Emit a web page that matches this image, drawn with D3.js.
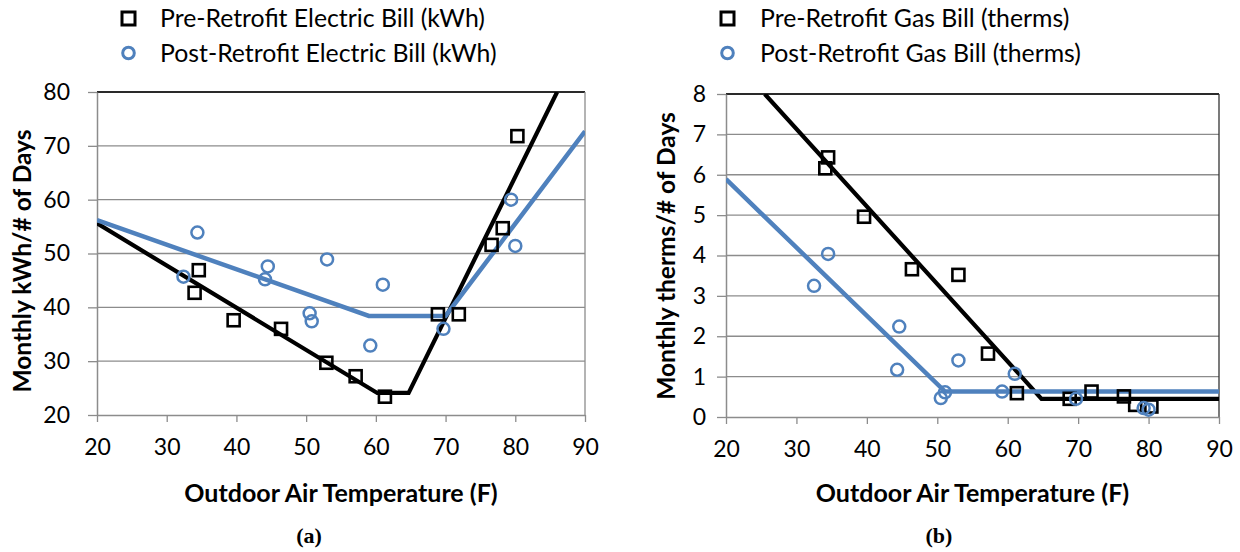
<!DOCTYPE html>
<html><head><meta charset="utf-8">
<script src="https://cdn.jsdelivr.net/npm/d3@7"></script>
<style>body{margin:0;background:#fff} svg{display:block}</style>
</head><body>
<svg id="c" width="1240" height="552"></svg>
<script>
// ---- data ----
const tempTicks = [20, 30, 40, 50, 60, 70, 80, 90];
const elecTicks = [20, 30, 40, 50, 60, 70, 80];
const gasTicks = [0, 1, 2, 3, 4, 5, 6, 7, 8];

const elecPreTemp = [34.6, 34.0, 39.6, 46.4, 52.9, 57.1, 61.3, 68.9, 71.9, 76.6, 78.2, 80.3];
const elecPreKwh  = [46.9, 42.7, 37.6, 36.0, 29.7, 27.2, 23.4, 38.7, 38.7, 51.6, 54.7, 71.8];
const elecPostTemp = [34.4, 32.4, 44.5, 44.1, 53.0, 50.5, 50.8, 61.0, 59.2, 69.7, 79.4, 80.0];
const elecPostKwh  = [53.9, 45.7, 47.6, 45.2, 48.9, 38.9, 37.4, 44.2, 32.9, 36.0, 60.0, 51.4];
const elecPreFitTemp = [20, 60.2, 64.7, 86.0];
const elecPreFitKwh  = [55.6, 24.1, 24.1, 80];
const elecPostFitTemp = [20, 59.0, 70.0, 90];
const elecPostFitKwh  = [56.2, 38.4, 38.4, 72.7];

const gasPreTemp = [34.5, 34.1, 39.6, 46.4, 53.0, 57.2, 61.3, 68.8, 71.9, 76.5, 78.1, 80.4];
const gasPreTherms = [6.43, 6.16, 4.96, 3.66, 3.52, 1.57, 0.59, 0.45, 0.63, 0.51, 0.30, 0.26];
const gasPostTemp = [34.5, 32.5, 44.6, 44.3, 53.0, 51.1, 50.5, 61.0, 59.2, 69.7, 79.3, 80.0];
const gasPostTherms = [4.04, 3.25, 2.24, 1.17, 1.40, 0.61, 0.47, 1.07, 0.63, 0.45, 0.22, 0.18];
const gasPreFitTemp = [25.5, 64.8, 90];
const gasPreFitTherms = [8, 0.45, 0.45];
const gasPostFitTemp = [20, 51.1, 90];
const gasPostFitTherms = [5.89, 0.63, 0.63];

const legendElec = ["Pre-Retrofit Electric Bill (kWh)", "Post-Retrofit Electric Bill (kWh)"];
const legendGas = ["Pre-Retrofit Gas Bill (therms)", "Post-Retrofit Gas Bill (therms)"];

// ---- drawing ----
const BLUE = "#4f81bd";
const GRID = "#8c8c8c";
const FONT = "Lato, 'Open Sans', sans-serif";
const svg = d3.select("#c");
const zip = (a, b) => a.map((v, i) => [v, b[i]]);

function panel(o) {
  const x = d3.scaleLinear().domain([20, 90]).range([o.x0, o.x1]);
  const y = d3.scaleLinear().domain([o.yTicks[0], o.yTicks[o.yTicks.length - 1]]).range([o.y0, o.y1]);
  const g = svg.append("g");

  // gridlines
  g.selectAll("line.grid").data(o.yTicks.slice(1)).join("line")
    .attr("x1", o.x0).attr("x2", o.x1)
    .attr("y1", d => y(d)).attr("y2", d => y(d))
    .attr("stroke", GRID).attr("stroke-width", 1.3);
  // top border (black) and right border
  g.append("line").attr("x1", o.x0).attr("x2", o.x1).attr("y1", o.y1).attr("y2", o.y1)
    .attr("stroke", "#000").attr("stroke-width", 1.6);
  g.append("line").attr("x1", o.x1).attr("x2", o.x1).attr("y1", o.y1).attr("y2", o.y0)
    .attr("stroke", o.rightBorder).attr("stroke-width", 1.3);

  // axes
  const ya = g.append("g").attr("transform", `translate(${o.x0},0)`)
    .call(d3.axisLeft(y).tickValues(o.yTicks).tickSize(9).tickPadding(o.yPad).tickSizeOuter(0));
  const xa = g.append("g").attr("transform", `translate(0,${o.y0})`)
    .call(d3.axisBottom(x).tickValues(tempTicks).tickSize(7).tickPadding(17).tickSizeOuter(0));
  [ya, xa].forEach(a => {
    a.select(".domain").attr("stroke", GRID).attr("stroke-width", 1.5);
    a.selectAll(".tick line").attr("stroke", GRID).attr("stroke-width", 1.3);
    a.selectAll(".tick text").attr("fill", "#000").style("font-family", FONT).style("font-size", "23px");
  });

  // clip
  const cid = "clip" + o.id;
  svg.append("clipPath").attr("id", cid).append("rect")
    .attr("x", o.x0).attr("y", o.y1).attr("width", o.x1 - o.x0).attr("height", o.y0 - o.y1);

  const line = d3.line().x(d => x(d[0])).y(d => y(d[1]));
  const lg = g.append("g").attr("clip-path", `url(#${cid})`);
  lg.append("path").attr("d", line(o.preFit)).attr("fill", "none")
    .attr("stroke", "#000").attr("stroke-width", 4.2).attr("stroke-linejoin", "miter");
  lg.append("path").attr("d", line(o.postFit)).attr("fill", "none")
    .attr("stroke", BLUE).attr("stroke-width", 4.5).attr("stroke-linejoin", "miter");

  // markers
  g.selectAll("rect.pre").data(o.pre).join("rect")
    .attr("x", d => x(d[0]) - 6).attr("y", d => y(d[1]) - 6)
    .attr("width", 12).attr("height", 12)
    .attr("fill", "none").attr("stroke", "#000").attr("stroke-width", 2.6);
  g.selectAll("circle.post").data(o.post).join("circle")
    .attr("cx", d => x(d[0])).attr("cy", d => y(d[1])).attr("r", 6)
    .attr("fill", "none").attr("stroke", BLUE).attr("stroke-width", 2.5);

  // axis titles
  g.append("text").attr("x", (o.x0 + o.x1) / 2).attr("y", o.xTitleY)
    .attr("text-anchor", "middle").style("font-family", FONT).style("font-weight", "bold")
    .style("font-size", "25px").text("Outdoor Air Temperature (F)");
  g.append("text").attr("transform", `translate(${o.yTitleX},${o.yTitleC}) rotate(-90)`)
    .attr("text-anchor", "middle").attr("dy", "0.36em").style("font-family", FONT).style("font-weight", "bold")
    .style("font-size", "24.5px").text(o.yTitle);

  // panel label
  g.append("text").attr("x", o.labelX).attr("y", 543).attr("text-anchor", "middle")
    .style("font-family", "'Liberation Serif', 'Times New Roman', serif").style("font-weight", "bold")
    .style("font-size", "22px").text(o.label);

  // legend
  const L = g.append("g");
  L.append("rect").attr("x", o.legX - 6.5).attr("y", 18.5 - 6.5).attr("width", 13).attr("height", 13)
    .attr("fill", "none").attr("stroke", "#000").attr("stroke-width", 3);
  L.append("circle").attr("cx", o.legX).attr("cy", 53).attr("r", 5.8)
    .attr("fill", "none").attr("stroke", BLUE).attr("stroke-width", 3);
  L.selectAll("text").data(o.legend).join("text")
    .attr("x", o.legTextX).attr("y", (d, i) => 27 + i * 35)
    .style("font-family", FONT).style("font-size", "24.8px").attr("fill", "#000").text(d => d);
}

panel({
  id: "a", x0: 97, x1: 585, y0: 415, y1: 92, yTicks: elecTicks, yPad: 18,
  rightBorder: "#8c8c8c",
  pre: zip(elecPreTemp, elecPreKwh), post: zip(elecPostTemp, elecPostKwh),
  preFit: zip(elecPreFitTemp, elecPreFitKwh), postFit: zip(elecPostFitTemp, elecPostFitKwh),
  xTitleY: 502, yTitleX: 22, yTitleC: 261, yTitle: "Monthly kWh/# of Days",
  labelX: 309, label: "(a)",
  legX: 128.5, legTextX: 160, legend: legendElec
});
panel({
  id: "b", x0: 726, x1: 1219, y0: 417, y1: 94, yTicks: gasTicks, yPad: 11,
  rightBorder: "#333",
  pre: zip(gasPreTemp, gasPreTherms), post: zip(gasPostTemp, gasPostTherms),
  preFit: zip(gasPreFitTemp, gasPreFitTherms), postFit: zip(gasPostFitTemp, gasPostFitTherms),
  xTitleY: 502, yTitleX: 666, yTitleC: 256, yTitle: "Monthly therms/# of Days",
  labelX: 939, label: "(b)",
  legX: 727.5, legTextX: 760, legend: legendGas
});
</script>
</body></html>
